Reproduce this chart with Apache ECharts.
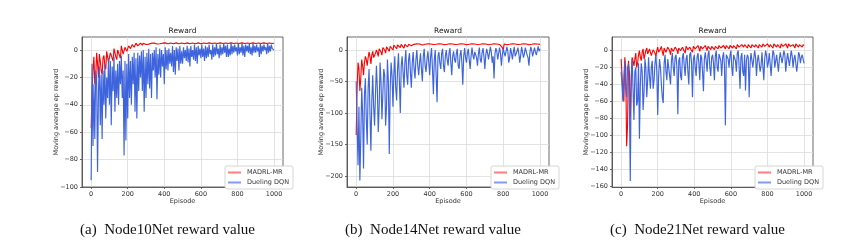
<!DOCTYPE html>
<html><head><meta charset="utf-8">
<script src="https://cdn.jsdelivr.net/npm/echarts@6/dist/echarts.min.js"></script>
<style>html,body{margin:0;padding:0;background:#fff}#c{width:863px;height:249px}</style>
</head><body><div id="c"></div>
<script>
// Episodes sampled every 5 episodes (0..1000)
const episodes = [];
for (let e = 0; e <= 1000; e += 5) episodes.push(e);

const xTicks = [0, 200, 400, 600, 800, 1000];
const yTicks1 = [-100, -80, -60, -40, -20, 0];
const yTicks2 = [-200, -150, -100, -50, 0];
const yTicks3 = [-160, -140, -120, -100, -80, -60, -40, -20, 0];

const seriesNames = ['MADRL-MR', 'Dueling DQN'];
const captions = ['(a)  Node10Net reward value', '(b)  Node14Net reward value', '(c)  Node21Net reward value'];

// ---------- Node10Net (one row = 100 episodes) ----------
const madrl10 = [
 -57,-30,-15,-5,-25,-20,-2,-10,-20,-3,-8,-15,-18,-6,-4,-12,-14,-1,-2,-9,
 -10,-2,-3,-6,-8,1,0,-5,-7,0,-1,-4,-6,3,2,-3,-4,2,3,-1,
 -2,3,4,1,0,4,4,2,1,5,5,3,3,4,5,4,3.5,5,5,4,
 4,5,5,4.3,4.2,5,5,4.5,4.5,5.1,5,4.4,4.4,5,5,4.6,4.6,5.1,5,4.5,
 4.6,5.2,4.7,5.1,4.6,5.2,4.8,5.1,4.7,5.2,4.6,5.1,4.8,5.2,4.7,5.1,4.6,5.2,4.8,5.1,
 4.7,5.2,4.6,5.1,4.8,5.2,4.7,5.1,4.6,5.2,4.8,5.1,4.7,5.2,4.6,5.1,4.8,5.2,4.7,5.1,
 4.6,5.2,4.7,5.1,4.6,5.2,4.8,5.1,4.7,5.2,4.6,5.1,4.8,5.2,4.7,5.1,4.6,5.2,4.8,5.1,
 4.7,5.2,4.6,5.1,4.8,5.2,4.7,5.1,4.6,5.2,4.8,5.1,4.7,5.2,4.6,5.1,4.8,5.2,4.7,5.1,
 4.6,5.2,4.7,5.1,4.6,5.2,4.8,5.1,4.7,5.2,4.6,5.1,4.8,5.2,4.7,5.1,4.6,5.2,4.8,5.1,
 4.7,5.2,4.6,5.1,4.8,5.2,4.7,5.1,4.6,5.2,4.8,5.1,4.7,5.2,4.6,5.1,4.8,5.2,4.7,5.1,
 5];
const dqn10 = [
 -95,-10,-70,-25,-65,-15,-20,-89,-30,-12,-55,-18,-65,-15,-40,-10,-50,-20,-35,-6,
 -40,-8,-55,-12,-30,-5,-45,-15,-35,-10,-40,-8,-25,-4,-35,-15,-77,-8,-66,-10,
 -50,-3,-35,-8,-40,-5,-25,-2,-45,-6,-50,-2,-30,-4,-20,-1,-30,0,-45,-5,
 -35,-2,-25,1,-28,-3,-35,-2,-15,0,-20,2,-36,-3,-18,1,-20,0,-12,-3,
 -25,2,-14,0,-15,1,-10,-2,-12,3,-16,0,-18,2,-8,1,-15,3,-10,-1,
 -10,2,-6,0,-8,3,-9,1,-12,3,-5,0,-7,4,-8,2,-10,3,-4,1,
 -6,4,-5,1,-8,3,-6,2,-5,4,-3,0,-7,4,-5,2,-4,5,-3,1,
 -6,4,-4,2,-3,5,-2,3,-5,4,-5,1,-4,5,-3,3,-2,4,-1,2,
 -4,5,-3,2,-2,5,-4,3,-5,4,-1,3,-2,5,-3,2,-4,5,-2,3,
 -2,4,-1,2,-5,5,-3,3,-1,4,0,2,-3,5,-2,3,-1,4,1,2,
 0];

// ---------- Node14Net ----------
const madrl14 = [
 -135,-60,-20,-30,-65,-45,-15,-25,-40,-20,-10,-15,-25,-12,-3,-10,-22,-8,-2,-12,
 -15,-5,0,-4,-10,2,3,-3,-8,4,5,0,-5,5,7,2,-2,6,8,3,
 0,8,9,5,2,8,9,6,4,9,9,7,3,9,10,8,5,9,10,8,
 7,9.5,10,9,8,9.5,10,9,8.5,9.6,10,9,8,9.5,10,9.2,8.5,9.6,10,9.2,
 8.5,9.5,10,9.2,8.8,9.6,10,9.2,8.5,9.5,10,9.2,8.8,9.6,10,9.2,8.5,9.5,10,9.2,
 8.8,9.6,10,9.2,8.5,9.5,10,9.2,8.8,9.6,10,9.2,8.5,9.5,10,9.2,8.8,9.6,10,9.2,
 8.5,9.5,10,9.2,8.8,9.6,10,9.2,8.5,9.5,10,9.2,8.8,9.6,10,9.2,8.5,9.5,10,9.2,
 8.8,9.6,10,9.2,8.5,9.5,10,9.2,8.8,9.6,10,9.2,8.5,9.5,10,9.2,8.8,9.6,10,4,
 0,9.5,10,9.2,8.5,9.6,10,9.2,8.8,9.5,10,9.2,8.5,9.6,10,9.2,8.8,9.5,10,9.2,
 8.5,9.5,10,9.2,8.8,9.6,10,9.2,8.5,9.5,10,9.2,8.8,9.6,10,9.2,8.5,9.5,10,9.2,
 9];
const dqn14 = [
 -50,-120,-183,-90,-207,-140,-60,-100,-188,-70,-45,-110,-150,-60,-30,-100,-160,-80,-40,-90,
 -120,-70,-25,-60,-130,-90,-20,-50,-110,-70,-30,-40,-120,-90,-15,-50,-165,-60,-20,-40,
 -90,-40,-10,-60,-80,-30,-5,-50,-100,-25,-10,-35,-60,-20,0,-40,-55,-15,-5,-35,
 -60,-20,-3,-30,-45,-15,0,-25,-40,-20,-5,-30,-50,-10,2,-25,-35,-15,-2,-20,
 -40,-10,3,-30,-70,-15,0,-40,-83,-10,-3,-20,-30,-5,2,-25,-35,-10,0,-15,
 -25,-5,3,-20,-40,-10,-2,-15,-20,-5,2,-25,-30,-8,0,-20,-55,-10,3,-12,
 -20,-5,2,-15,-30,-10,4,-8,-15,-3,0,-12,-25,-6,4,-15,-20,-4,3,-10,
 -30,-8,2,-5,-15,-12,5,-3,-20,-10,-45,-6,3,-2,-15,-12,4,-5,-25,-8,
 2,-4,-10,-8,5,-2,-20,-12,3,-5,-15,-3,5,-10,-10,-2,4,-6,-20,-8,
 5,-3,-12,-6,4,-2,-8,-12,-25,-4,5,-1,-10,-8,4,-3,-8,-5,6,-2,
 2];

// ---------- Node21Net ----------
const madrl21 = [
 -10,-30,-56,-60,-8,-20,-113,-88,-12,-25,-80,-40,-8,-12,-18,-10,-3,-20,-15,-5,
 0,-8,-12,-2,2,-10,-8,0,3,-4,-6,2,4,-6,-5,1,3,-3,-7,0,
 4,-2,-4,2,5,-1,-6,3,4,-2,-3,4,5,0,-5,3,4,-1,-2,4,
 5,1,-4,3,4,0,-2,4,5,2,-3,5,6,1,-1,4,5,2,-2,5,
 5,2,0,4,6,3,-1,5,5,2,1,4,6,3,0,5,6,3,1,5,
 6,3,1,5,6,4,2,6,7,3,1,5,6,4,2,6,7,4,2,6,
 7,4,3,6,7,5,2,7,8,4,3,6,7,5,4,7,8,5,3,7,
 8,5,3,7,7,6,4,7,8,5,3,7,8,6,4,8,7,5,3,7,
 8,6,4,7,7,5,3,8,8,6,4,7,8,6,3,8,7,5,4,7,
 8,6,3,8,8,5,4,7,7,6,3,8,8,6,4,7,8,6,4,7,
 6];
const dqn21 = [
 -25,-40,-60,-30,-12,-45,-55,-20,-15,-60,-154,-30,-10,-45,-82,-25,-20,-65,-60,-15,
 -104,-40,-15,-25,-70,-50,-10,-20,-55,-35,-8,-30,-45,-20,-12,-45,-35,-15,-5,-25,
 -76,-30,-10,-20,-40,-55,-62,-15,-5,-25,-35,-10,-8,-30,-40,-12,-3,-20,-30,-8,
 -5,-20,-75,-12,-8,-30,-35,-8,-3,-18,-30,-10,-5,-25,-40,-5,-2,-15,-55,-10,
 -5,-20,-30,-8,-3,-15,-35,-5,-8,-25,-48,-10,-2,-12,-25,-5,0,-20,-30,-8,
 -5,-15,-35,-6,0,-20,-25,-4,-3,-12,-30,-8,-2,-18,-88,-5,-5,-10,-20,-6,
 0,-20,-30,-5,-5,-12,-25,-3,0,-18,-45,-8,-3,-25,-30,-5,-47,-12,-5,-8,
 -55,-15,-3,-4,-20,-20,0,-8,-30,-12,-5,-5,-25,-18,-2,-3,-35,-10,0,-6,
 -20,-14,-3,-5,-30,-12,0,-3,-20,-18,-5,-6,-25,-10,-2,-4,-15,-15,0,-5,
 -25,-12,-3,-3,-18,-18,0,-6,-20,-10,-5,-4,-25,-15,-2,-5,-15,-8,-5,-6,
 -15];

const panels = [
  {red: madrl10, blue: dqn10, ymin: -100, ymax: 9.5, yt: yTicks1, left: 82, width: 201},
  {red: madrl14, blue: dqn14, ymin: -217.5, ymax: 20.7, yt: yTicks2, left: 347, width: 202},
  {red: madrl21, blue: dqn21, ymin: -161, ymax: 16, yt: yTicks3, left: 612, width: 201}
];

const FONT = 'DejaVu Sans';
const fmtNum = v => (v < 0 ? '\u2212' + Math.abs(v) : String(v));
const grid = [], xAxis = [], yAxis = [], series = [], legend = [], graphic = [];
const lineSeries = (name, i, ys, color, legendColor, width) => ({
  name, type: 'line', xAxisIndex: i, yAxisIndex: i,
  data: episodes.map((e, k) => [e, ys[k]]), showSymbol: false, symbol: 'none',
  lineStyle: {color, width}, itemStyle: {color: legendColor}, animation: false
});
panels.forEach((p, i) => {
  grid.push({left: p.left, top: 37, width: p.width, height: 150, show: true,
    borderColor: '#444', borderWidth: 0.8, backgroundColor: 'transparent'});
  xAxis.push({type: 'value', gridIndex: i, min: -50, max: 1049,
    name: 'Episode', nameLocation: 'middle', nameGap: 11, nameMoveOverlap: false,
    nameTextStyle: {fontFamily: FONT, fontSize: 6.5, color: '#333'},
    axisLine: {show: true, onZero: false, lineStyle: {color: '#444', width: 0.8}},
    axisTick: {show: true, length: 2, customValues: xTicks, lineStyle: {color: '#444', width: 0.8}},
    axisLabel: {customValues: xTicks, margin: 4, fontFamily: FONT, fontSize: 6.5, color: '#333', formatter: fmtNum},
    splitLine: {show: true, lineStyle: {color: '#dcdcdc', width: 0.8}}
  });
  yAxis.push({type: 'value', gridIndex: i, min: p.ymin, max: p.ymax,
    name: 'Moving average ep reward', nameLocation: 'middle', nameRotate: 90, nameGap: 22, nameMoveOverlap: false,
    nameTextStyle: {fontFamily: FONT, fontSize: 6.5, color: '#333'},
    axisLine: {show: true, onZero: false, lineStyle: {color: '#444', width: 0.8}},
    axisTick: {show: true, length: 2, customValues: p.yt, lineStyle: {color: '#444', width: 0.8}},
    axisLabel: {customValues: p.yt, margin: 4, fontFamily: FONT, fontSize: 6.5, color: '#333', formatter: fmtNum},
    splitLine: {show: true, lineStyle: {color: '#dcdcdc', width: 0.8}}
  });
  series.push(lineSeries(seriesNames[0], i, p.red, '#ff0000', '#ff7f7f', 1.1));
  series.push(lineSeries(seriesNames[1], i, p.blue, '#3d64dc', '#7f9cef', 1.15));
  legend.push({orient: 'vertical', left: p.left + p.width - 58, top: 166,
    data: seriesNames, icon: 'rect', itemWidth: 13, itemHeight: 2, itemGap: 3,
    padding: [3, 4, 3, 3], borderColor: '#cccccc', borderWidth: 0.8, borderRadius: 2,
    backgroundColor: '#ffffff', selectedMode: false,
    textStyle: {fontFamily: FONT, fontSize: 6.5, color: '#333', padding: [0, 0, 0, 1]}});
  graphic.push({type: 'text', x: p.left + p.width / 2, y: 31.5,
    style: {text: 'Reward', textAlign: 'center', textVerticalAlign: 'middle',
      font: '7.5px "DejaVu Sans"', fill: '#222'}});
  graphic.push({type: 'text', x: p.left + p.width / 2 - 15, y: 230,
    style: {text: captions[i], textAlign: 'center', textVerticalAlign: 'middle',
      font: '15px "Liberation Serif"', fill: '#111'}});
});

const chart = echarts.init(document.getElementById('c'), null, {renderer: 'canvas'});
chart.setOption({animation: false, grid, xAxis, yAxis, series, legend, graphic});
</script></body></html>
